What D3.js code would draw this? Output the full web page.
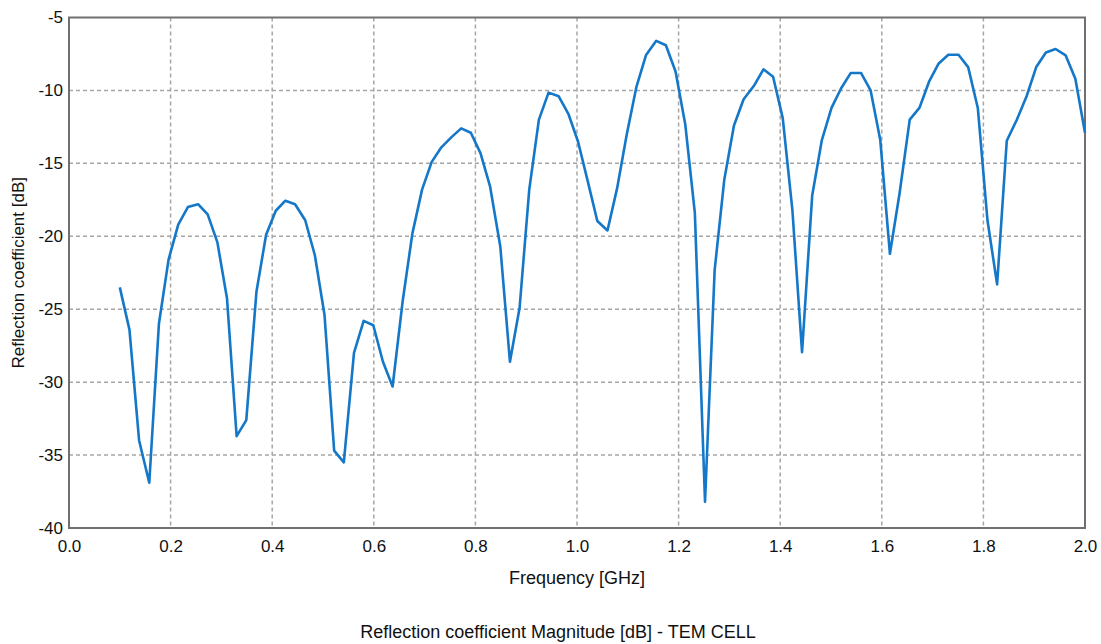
<!DOCTYPE html>
<html>
<head>
<meta charset="utf-8">
<script src="https://cdn.jsdelivr.net/npm/d3@7"></script>
<style>
  body { margin: 0; background: #fff; }
  svg { display: block; font-family: Arial, "Liberation Sans", sans-serif; }
  .grid line { stroke: #a6a6a6; stroke-width: 1.5; stroke-dasharray: 4, 3; }
  .tick text { fill: #111; font-size: 17px; }
</style>
</head>
<body>
<div id="chart"></div>
<script>
// frequency sweep points [GHz]
const freqs = [
  0.100, 0.119, 0.138, 0.158, 0.177, 0.196, 0.215, 0.234, 0.254, 0.273,
  0.292, 0.311, 0.330, 0.349, 0.369, 0.388, 0.407, 0.426, 0.445, 0.465,
  0.484, 0.503, 0.522, 0.541, 0.561, 0.580, 0.599, 0.618, 0.637, 0.657,
  0.676, 0.695, 0.714, 0.733, 0.753, 0.772, 0.791, 0.810, 0.829, 0.849,
  0.868, 0.887, 0.906, 0.925, 0.944, 0.964, 0.983, 1.002, 1.021, 1.040,
  1.060, 1.079, 1.098, 1.117, 1.136, 1.156, 1.175, 1.194, 1.213, 1.232,
  1.252, 1.271, 1.290, 1.309, 1.328, 1.348, 1.367, 1.386, 1.405, 1.424,
  1.443, 1.463, 1.482, 1.501, 1.520, 1.539, 1.559, 1.578, 1.597, 1.616,
  1.635, 1.655, 1.674, 1.693, 1.712, 1.731, 1.751, 1.770, 1.789, 1.808,
  1.827, 1.846, 1.866, 1.885, 1.904, 1.923, 1.942, 1.962, 1.981, 2.000
];

// reflection coefficient magnitude [dB]
const reflDb = [
  -23.5, -26.4, -34.0, -36.9, -26.0, -21.6, -19.2, -18.0, -17.8, -18.5,
  -20.4, -24.25, -33.7, -32.6, -23.8, -19.9, -18.25, -17.56, -17.8, -18.9,
  -21.3, -25.4, -34.7, -35.5, -28.0, -25.8, -26.1, -28.6, -30.3, -24.4,
  -19.8, -16.8, -14.9, -13.9, -13.2, -12.6, -12.9, -14.3, -16.6, -20.7,
  -28.6, -24.9, -16.8, -12.0, -10.15, -10.4, -11.6, -13.5, -16.2, -18.95,
  -19.6, -16.7, -13.0, -9.75, -7.57, -6.6, -6.9, -8.7, -12.3, -18.4,
  -38.2, -22.3, -16.1, -12.4, -10.6, -9.7, -8.55, -9.06, -11.9, -18.2,
  -27.95, -17.2, -13.4, -11.2, -9.85, -8.8, -8.8, -10.0, -13.4, -21.2,
  -17.05, -12.0, -11.2, -9.4, -8.15, -7.55, -7.55, -8.4, -11.2, -18.9,
  -23.3, -13.45, -12.0, -10.4, -8.4, -7.4, -7.16, -7.6, -9.2, -12.9
];

// axis ticks
const xTicks = [0.0, 0.2, 0.4, 0.6, 0.8, 1.0, 1.2, 1.4, 1.6, 1.8, 2.0];
const yTicks = [-5, -10, -15, -20, -25, -30, -35, -40];

const xTitle = 'Frequency [GHz]';
const yTitle = 'Reflection coefficient [dB]';
const chartTitle = 'Reflection coefficient Magnitude [dB] - TEM CELL';

const width = 1101, height = 644;
const margin = { top: 17.5, right: 16, bottom: 116, left: 69 };
const innerW = width - margin.left - margin.right;
const innerH = height - margin.top - margin.bottom;

const svg = d3.select('#chart')
  .append('svg')
  .attr('width', width)
  .attr('height', height);

const g = svg.append('g')
  .attr('transform', 'translate(' + margin.left + ',' + margin.top + ')');

const x = d3.scaleLinear().domain([0, 2]).range([0, innerW]);
const y = d3.scaleLinear().domain([-40, -5]).range([innerH, 0]);

// dashed grid, only the inner lines
g.append('g')
  .attr('class', 'grid')
  .selectAll('line')
  .data(xTicks.slice(1, -1))
  .enter()
  .append('line')
  .attr('x1', d => x(d)).attr('x2', d => x(d))
  .attr('y1', 0).attr('y2', innerH);

g.append('g')
  .attr('class', 'grid')
  .selectAll('line')
  .data(yTicks.slice(1, -1))
  .enter()
  .append('line')
  .attr('x1', 0).attr('x2', innerW)
  .attr('y1', d => y(d)).attr('y2', d => y(d));

// axes, labels only
const xAxis = g.append('g')
  .attr('transform', 'translate(0,' + innerH + ')')
  .call(d3.axisBottom(x).tickValues(xTicks).tickFormat(d3.format('.1f')).tickSize(0).tickPadding(12));
xAxis.select('.domain').remove();

const yAxis = g.append('g')
  .call(d3.axisLeft(y).tickValues(yTicks).tickFormat(d => d).tickSize(0).tickPadding(6));
yAxis.select('.domain').remove();

// plot frame
g.append('rect')
  .attr('width', innerW)
  .attr('height', innerH)
  .attr('fill', 'none')
  .attr('stroke', '#707070')
  .attr('stroke-width', 2);

// the curve
const line = d3.line()
  .x((d, i) => x(freqs[i]))
  .y(d => y(d));

g.append('path')
  .datum(reflDb)
  .attr('fill', 'none')
  .attr('stroke', '#1477c8')
  .attr('stroke-width', 2.6)
  .attr('stroke-linejoin', 'round')
  .attr('d', line);

// titles
svg.append('text')
  .attr('x', margin.left + innerW / 2)
  .attr('y', 584)
  .attr('text-anchor', 'middle')
  .style('font-size', '18px')
  .attr('fill', '#111')
  .text(xTitle);

svg.append('text')
  .attr('transform', 'translate(24,' + (margin.top + innerH / 2) + ') rotate(-90)')
  .attr('text-anchor', 'middle')
  .style('font-size', '17px')
  .attr('fill', '#111')
  .text(yTitle);

svg.append('text')
  .attr('x', 558)
  .attr('y', 638)
  .attr('text-anchor', 'middle')
  .style('font-size', '18px')
  .attr('fill', '#111')
  .text(chartTitle);
</script>
</body>
</html>
